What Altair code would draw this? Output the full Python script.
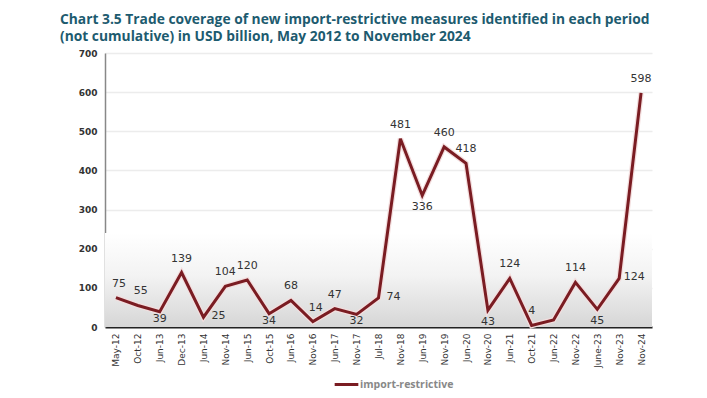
import altair as alt
import pandas as pd

periods = ["May-12", "Oct-12", "Jun-13", "Dec-13", "Jun-14", "Nov-14", "Jun-15", "Oct-15",
           "Jun-16", "Nov-16", "Jun-17", "Nov-17", "Jul-18", "Nov-18", "Jun-19", "Nov-19",
           "Jun-20", "Nov-20", "Jun-21", "Oct-21", "Jun-22", "Nov-22", "June-23", "Nov-23", "Nov-24"]
values = [75, 55, 39, 139, 25, 104, 120, 34, 68, 14, 47, 32, 74, 481, 336, 460, 418,
          43, 124, 4, 18, 114, 45, 124, 598]
labels = ["75", "55", "39", "139", "25", "104", "120", "34", "68", "14", "47", "32", "74",
          "481", "336", "460", "418", "43", "124", "4", "", "114", "45", "124", "598"]
placement = ["aboveright", "aboveright", "belowlow", "above", "right", "above", "above", "belowlow",
             "above", "aboveright", "above", "belowlow", "right", "above", "below", "above",
             "above", "below", "above", "above", "above", "above", "below", "right", "above"]
series = "import-restrictive"

offsets = {"above": (0, -14), "below": (0, 12), "belowlow": (0, 7), "right": (15, -1),
           "aboveright": (3, -14)}

df = pd.DataFrame({
    "period": periods,
    "value": values,
    "label": labels,
    "placement": placement,
    "series": [series] * len(periods),
})

W, H = 547, 274
xenc = alt.X("period:N", sort=periods, title=None,
             scale=alt.Scale(paddingInner=0, paddingOuter=0.5),
             axis=alt.Axis(labelAngle=-90, labelFontSize=9, labelColor="#333",
                           labelFont="DejaVu Sans", domainColor="#222", domainWidth=2,
                           ticks=False, labelPadding=6))
yscale = alt.Scale(domain=[0, 700])
yaxis = alt.Axis(values=[0, 100, 200, 300, 400, 500, 600, 700], labelFontSize=9,
                 labelFontWeight="bold", labelColor="#333", labelFont="DejaVu Sans",
                 gridColor="#ececec", gridWidth=1.5, domainColor="#888",
                 domainWidth=1.5, ticks=False, labelPadding=8, labelOverlap=False)
yenc = alt.Y("value:Q", title=None, scale=yscale, axis=yaxis)

bg = alt.Chart(pd.DataFrame({"top": [240], "bottom": [0]})).mark_rect(
    color=alt.Gradient(gradient="linear", x1=0, x2=0, y1=0, y2=1,
                       stops=[alt.GradientStop(color="#ffffff", offset=0),
                              alt.GradientStop(color="#f3f3f3", offset=0.45),
                              alt.GradientStop(color="#d6d6d6", offset=1)])
).encode(x=alt.value(0), x2=alt.value(W),
         y=alt.Y("top:Q", scale=yscale, axis=yaxis, title=None), y2="bottom:Q")

halo = alt.Chart(df).mark_line(color="#f3dede", strokeWidth=5.5, strokeJoin="miter").encode(
    x=xenc, y=yenc)
line = alt.Chart(df).mark_line(strokeWidth=3, strokeJoin="miter").encode(
    x=xenc, y=yenc,
    color=alt.Color("series:N",
                    scale=alt.Scale(domain=[series], range=["#7a1c22"]),
                    legend=alt.Legend(title=None, orient="none", legendX=228, legendY=318,
                                      symbolType="stroke", symbolStrokeWidth=3, symbolSize=560,
                                      labelFontSize=10.5, labelColor="#888", labelFont="Open Sans",
                                      labelFontWeight="bold", labelOffset=0)))

text_layers = []
for name, (ddx, ddy) in offsets.items():
    text_layers.append(
        alt.Chart(df).transform_filter(alt.datum.placement == name)
        .mark_text(fontSize=11, color="#333", font="DejaVu Sans", dx=ddx, dy=ddy)
        .encode(x=xenc, y=yenc, text="label:N"))

chart = alt.layer(bg, halo, line, *text_layers).properties(
    width=W, height=H,
    title=alt.TitleParams(
        ["Chart 3.5 Trade coverage of new import-restrictive measures identified in each period",
         "(not cumulative) in USD billion, May 2012 to November 2024"],
        anchor="start", frame="group", dx=-45, offset=5, fontSize=13.8, font="Open Sans",
        fontWeight="bold", color="#1d5b6f", lineHeight=17),
    autosize=alt.AutoSizeParams(type="none"),
    padding={"left": 97, "top": 45, "right": 47, "bottom": 63},
).configure_view(stroke=None)

chart.save("out.html", embed_options={"renderer": "svg", "actions": False})
